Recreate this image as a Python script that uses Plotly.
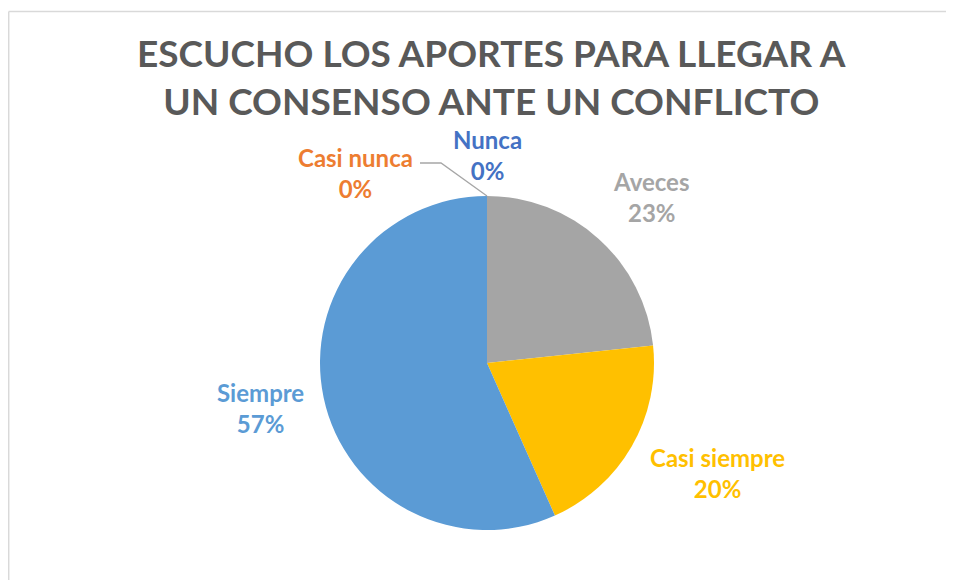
import math
import plotly.graph_objects as go

W, H = 954, 580
OFF = 8  # page body margin that the browser adds around the plot div

categories = ["Nunca", "Casi nunca", "Aveces", "Casi siempre", "Siempre"]
counts = [0, 0, 7, 6, 17]
colors = ["#4472C4", "#ED7D31", "#A5A5A5", "#FFC000", "#5B9BD5"]
label_colors = ["#4472C4", "#ED7D31", "#A5A5A5", "#FFC000", "#5B9BD5"]

FONT = "Lato"
LABEL_SIZE = 24

# small nudges (px) on top of the radial label placement, Excel "best fit" style
nudge = {"Aveces": (-3, 7), "Casi siempre": (-4, -17), "Siempre": (5, 5)}


def fx(px):
    return (px - OFF) / W


def fy(py):
    return 1 - (py - OFF) / H


# pie placement in page pixels
cx, cy, r = 487, 363, 167

fig = go.Figure(go.Pie(
    labels=categories,
    values=counts,
    marker=dict(colors=colors, line=dict(width=0)),
    sort=False,
    direction="clockwise",
    rotation=0,
    textinfo="none",
    hoverinfo="label+percent",
    domain=dict(x=[fx(cx - r), fx(cx + r)], y=[fy(cy + r), fy(cy - r)]),
    showlegend=False,
))

total = sum(counts)
annotations = []
cum = 0
for cat, val, col in zip(categories, counts, label_colors):
    if val == 0:
        continue
    pct = round(100 * val / total)
    mid = 2 * math.pi * (cum + val / 2) / total
    cum += val
    dx, dy = math.sin(mid), -math.cos(mid)
    nx, ny = nudge.get(cat, (0, 0))
    px_, py_ = cx + 1.14 * r * dx + nx, cy + 1.14 * r * dy + ny
    xa = "left" if dx > 0.2 else ("right" if dx < -0.2 else "center")
    ya = "bottom" if dy < -0.4 else ("top" if dy > 0.4 else "middle")
    annotations.append(dict(
        x=fx(px_), y=fy(py_), xref="paper", yref="paper",
        text=f"<b>{cat}<br>{pct}%</b>", showarrow=False, xanchor=xa, yanchor=ya,
        font=dict(family=FONT, size=LABEL_SIZE, color=col), align="center",
    ))

# zero-value slices: labels sit above the top of the pie
annotations.append(dict(
    x=fx(cx), y=fy(187), xref="paper", yref="paper",
    text=f"<b>{categories[0]}<br>0%</b>", showarrow=False,
    xanchor="center", yanchor="bottom",
    font=dict(family=FONT, size=LABEL_SIZE, color=label_colors[0]), align="center",
))
annotations.append(dict(
    x=fx(355), y=fy(173), xref="paper", yref="paper",
    text=f"<b>{categories[1]}<br>0%</b>", showarrow=False,
    xanchor="center", yanchor="middle",
    font=dict(family=FONT, size=LABEL_SIZE, color=label_colors[1]), align="center",
))

# title
annotations.append(dict(
    x=fx(491), y=fy(28), xref="paper", yref="paper",
    text="<b>ESCUCHO LOS APORTES PARA LLEGAR A<br>UN CONSENSO ANTE UN CONFLICTO</b>",
    showarrow=False, xanchor="center", yanchor="top",
    font=dict(family=FONT, size=37, color="#595959"), align="center",
))

shapes = [
    # leader line for "Casi nunca"
    dict(type="path", xref="paper", yref="paper",
         path=f"M {fx(420)} {fy(163)} L {fx(441)} {fy(163)} L {fx(cx)} {fy(cy - r)}",
         line=dict(color="#A6A6A6", width=1.3)),
    # chart area border (top and left edges)
    dict(type="line", xref="paper", yref="paper", x0=fx(8.7), x1=1, y0=fy(11.5), y1=fy(11.5),
         line=dict(color="#D9D9D9", width=1.5)),
    dict(type="line", xref="paper", yref="paper", x0=fx(8.7), x1=fx(8.7), y0=0, y1=fy(11.5),
         line=dict(color="#D9D9D9", width=1.5)),
]

fig.update_layout(
    width=W, height=H,
    margin=dict(l=0, r=0, t=0, b=0),
    paper_bgcolor="white",
    plot_bgcolor="white",
    annotations=annotations,
    shapes=shapes,
)

fig.write_html("out.html")
